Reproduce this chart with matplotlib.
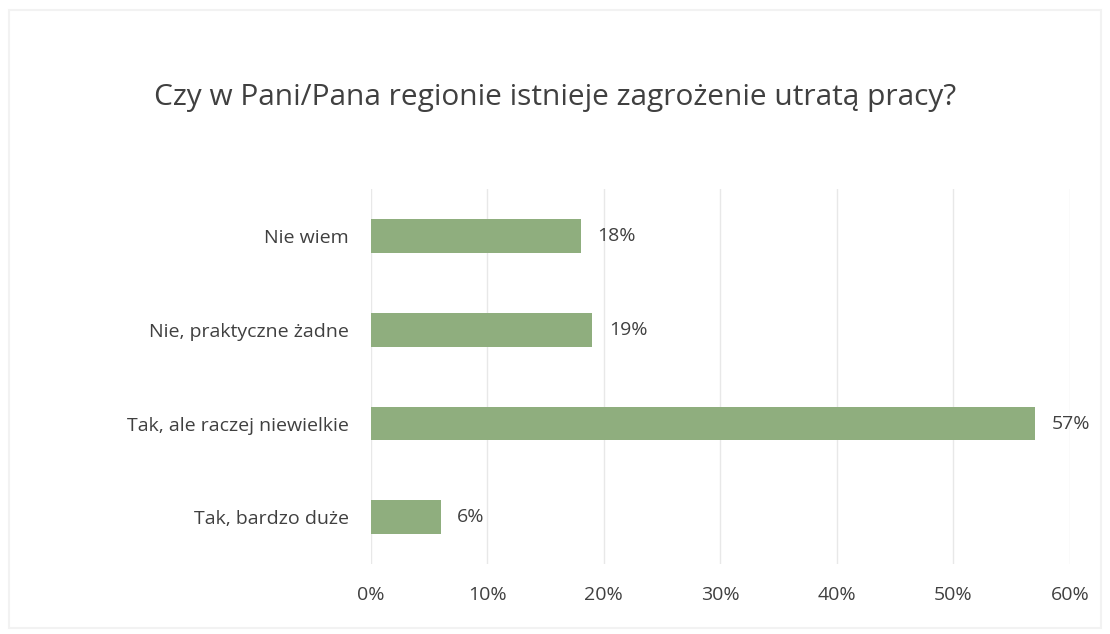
import matplotlib.pyplot as plt
from matplotlib.ticker import PercentFormatter
from matplotlib.patches import Rectangle

plt.rcParams["font.family"] = ["Open Sans", "DejaVu Sans"]

# answers, bottom to top as drawn
categories = ["Tak, bardzo duże", "Tak, ale raczej niewielkie",
              "Nie, praktyczne żadne", "Nie wiem"]
values = [6, 57, 19, 18]
title = "Czy w Pani/Pana regionie istnieje zagrożenie utratą pracy?"

text_color = "#404040"
bar_color = "#8fae7e"

fig = plt.figure(figsize=(11.1, 6.34), dpi=100)
ax = fig.add_axes([0.334, 0.110, 0.630, 0.592])

bars = ax.barh(categories, values, height=0.36, color=bar_color)
ax.bar_label(bars, labels=[f"{v}%" for v in values], padding=12,
             fontsize=14, color=text_color)

ax.set_xlim(0, 60)
ax.set_ylim(-0.5, 3.5)
ax.set_xticks(range(0, 61, 10))
ax.xaxis.set_major_formatter(PercentFormatter(decimals=0))
ax.grid(axis="x", color="#e8e8e8", linewidth=1)
ax.set_axisbelow(True)
for s in ax.spines.values():
    s.set_visible(False)
ax.tick_params(length=0, labelsize=14, labelcolor=text_color)
ax.tick_params(axis="x", pad=16)
ax.tick_params(axis="y", pad=16)

fig.text(0.5, 0.847, title, ha="center", va="center", fontsize=21.5,
         color=text_color)

# faint chart frame
fig.patches.append(Rectangle((0.008, 0.01), 0.984, 0.975, transform=fig.transFigure,
                             fill=False, edgecolor="#f2f2f2", linewidth=1.5))

fig.savefig("out.png", dpi=100)
